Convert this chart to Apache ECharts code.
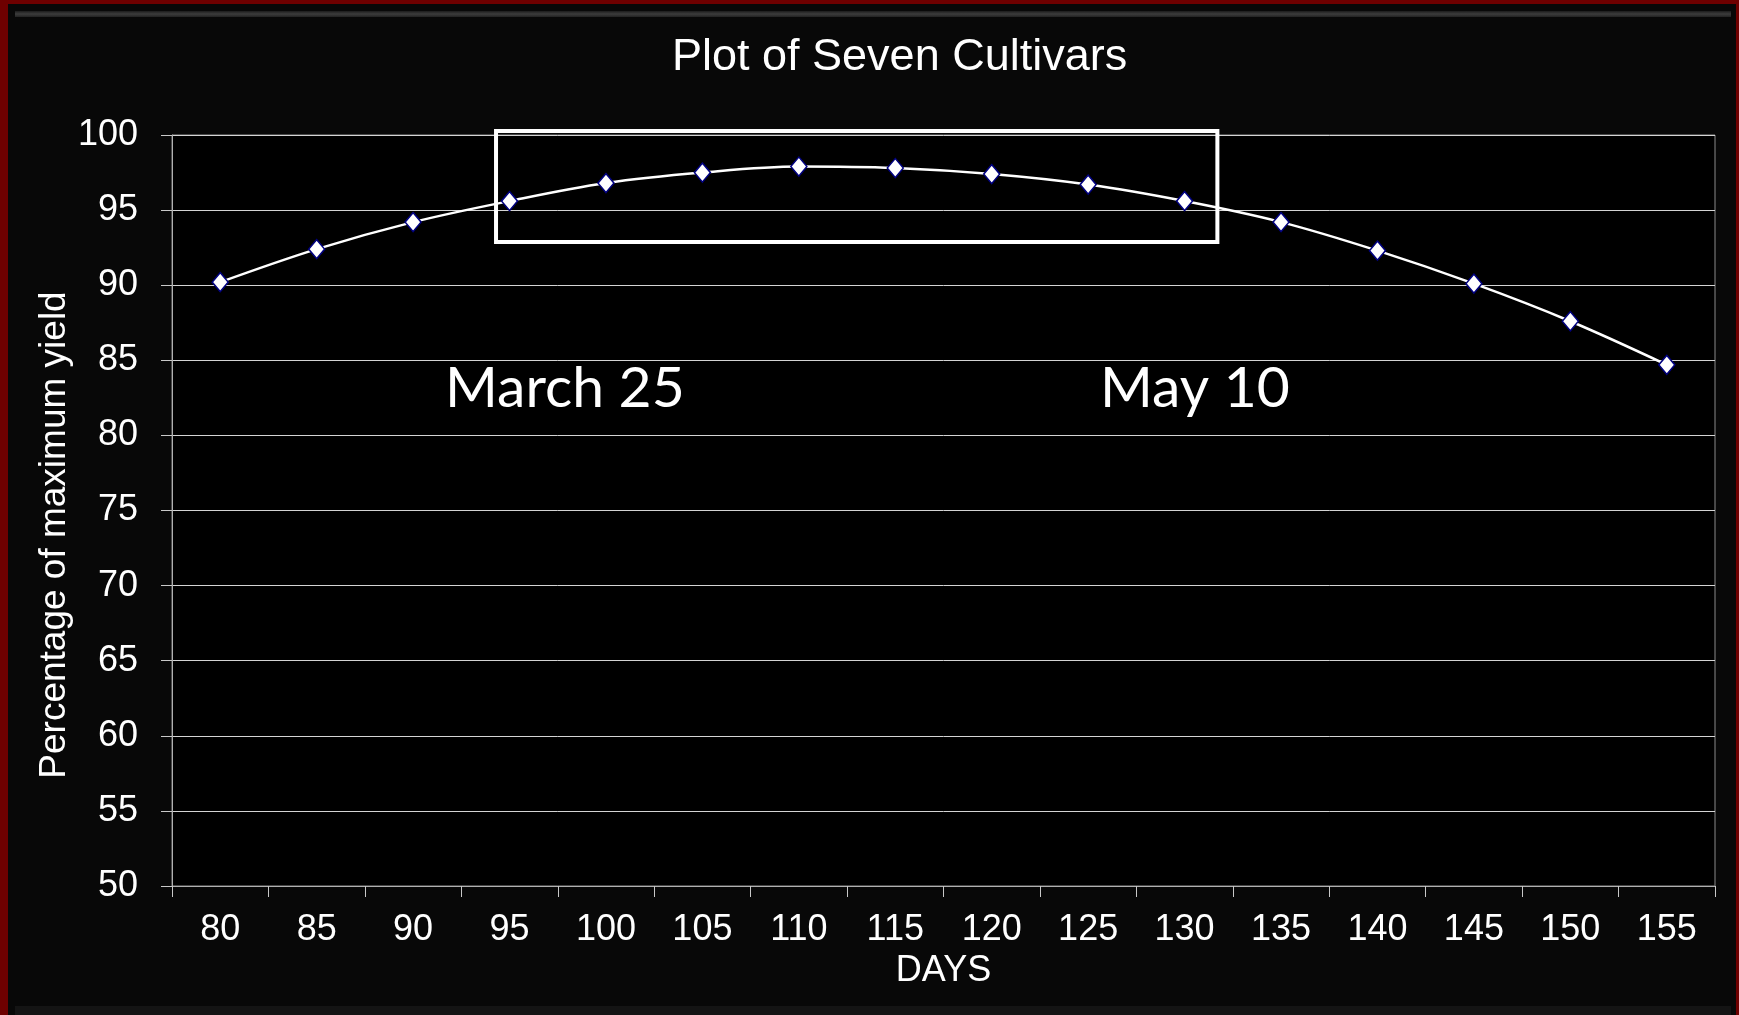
<html>
<head>
<meta charset="UTF-8" />
<title>Plot of Seven Cultivars</title>
<script src="https://cdn.jsdelivr.net/npm/echarts@6/dist/echarts.min.js"></script>
<style type="text/css">
html, body { margin:0; padding:0; background:#6e0000; overflow:hidden; }
.frame { position:absolute; left:8px; top:4px; width:1728px; height:1011px; background:#080808; }
.bevel { position:absolute; left:15px; top:11px; width:1716px; height:6px;
  background:linear-gradient(to bottom, #1c1c1c, #3c3c3c, #222); }
.bevel2 { position:absolute; left:15px; top:1006px; width:1716px; height:9px; background:#141414; }
#main { position:absolute; left:0; top:0; width:1739px; height:1015px; }
</style>
</head>
<body>
<div class="frame"></div>
<div class="bevel"></div>
<div class="bevel2"></div>
<div id="main"></div>

<script type="text/javascript">
// days after planting (x categories)
var days = ['80','85','90','95','100','105','110','115','120','125','130','135','140','145','150','155'];
// percentage of maximum yield
var yieldPct = [90.2, 92.4, 94.2, 95.6, 96.8, 97.5, 97.9, 97.8, 97.4, 96.7, 95.6, 94.2, 92.3, 90.1, 87.6, 84.7];
// y axis range
var yMin = 50, yMax = 100, yStep = 5;
// highlighted window, in category index / value units: [x0, y0, x1, y1]
var windowBox = [2.86, 100.27, 10.34, 92.88];
var windowLabels = ['March 25', 'May 10'];

var font = '"Liberation Sans", Arial, sans-serif';

var myChart = echarts.init(document.getElementById('main'));

myChart.setOption({
  animation: false,
  backgroundColor: 'transparent',
  title: {
    text: 'Plot of Seven Cultivars',
    left: 667,
    top: 30,
    textStyle: { color: '#fff', fontFamily: font, fontSize: 45, fontWeight: 'normal' }
  },
  grid: {
    left: 172, right: 24, top: 135, bottom: 129,
    show: true, backgroundColor: '#000', borderColor: '#8a8a8a', borderWidth: 1
  },
  xAxis: [{
    type: 'category',
    data: days,
    boundaryGap: true,
    name: 'DAYS',
    nameLocation: 'middle',
    nameGap: 67,
    nameTextStyle: { color: '#fff', fontFamily: font, fontSize: 36, verticalAlign: 'top' },
    axisLine: { lineStyle: { color: '#b0b0b0', width: 1 } },
    axisTick: { show: true, length: 11, inside: false, lineStyle: { color: '#c8c8c8' } },
    axisLabel: { color: '#fff', fontFamily: font, fontSize: 36, margin: 26 },
    splitLine: { show: false }
  }, {
    type: 'value',
    min: -0.5, max: days.length - 0.5,
    show: false
  }],
  yAxis: {
    type: 'value',
    min: yMin, max: yMax, interval: yStep,
    axisLine: { show: true, onZero: false, lineStyle: { color: '#b0b0b0', width: 1 } },
    axisTick: { show: true, length: 11, inside: false, lineStyle: { color: '#c8c8c8' } },
    axisLabel: { color: '#fff', fontFamily: font, fontSize: 36, margin: 34 },
    splitLine: { show: true, lineStyle: { color: '#d4d4d4', width: 1 } }
  },
  graphic: [{
    type: 'text',
    x: 55, y: 535,
    rotation: Math.PI / 2,
    style: { text: 'Percentage of maximum yield', fill: '#fff', font: '37px ' + font,
             align: 'center', verticalAlign: 'middle' }
  }],
  series: [{
    // outlined window with its date labels
    type: 'custom',
    xAxisIndex: 1,
    silent: true,
    z: 1,
    data: [windowBox],
    renderItem: function (params, api) {
      var p0 = api.coord([api.value(0), api.value(1)]);
      var p1 = api.coord([api.value(2), api.value(3)]);
      return {
        type: 'group',
        children: [{
          type: 'rect',
          shape: { x: p0[0], y: p0[1], width: p1[0] - p0[0], height: p1[1] - p0[1] },
          style: { fill: 'none', stroke: '#fff', lineWidth: 4 }
        }, {
          type: 'text',
          x: 445, y: 389,
          style: { text: windowLabels[0], fill: '#fff', font: '57px Lato, "Open Sans", sans-serif',
                   align: 'left', verticalAlign: 'middle' }
        }, {
          type: 'text',
          x: 1100, y: 389,
          style: { text: windowLabels[1], fill: '#fff', font: '57px Lato, "Open Sans", sans-serif',
                   align: 'left', verticalAlign: 'middle' }
        }]
      };
    }
  }, {
    name: 'yield',
    type: 'line',
    data: yieldPct,
    smooth: 0.35,
    z: 3,
    symbol: 'diamond',
    symbolSize: [16, 19],
    lineStyle: { color: '#fff', width: 2.5 },
    itemStyle: { color: '#fff', borderColor: '#000080', borderWidth: 1.5 }
  }]
});
</script>
</body>
</html>
